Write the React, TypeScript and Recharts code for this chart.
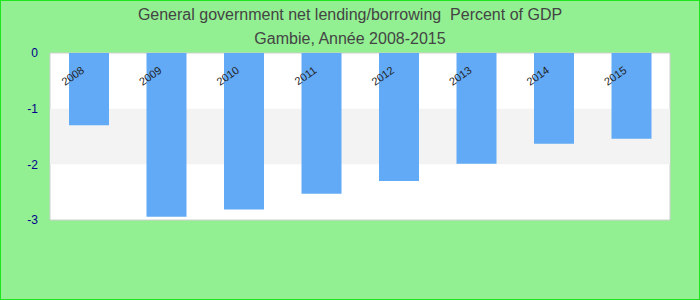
import React from "react";
import {
  BarChart,
  Bar,
  XAxis,
  YAxis,
  ReferenceArea,
  LabelList,
} from "recharts";

const years = ["2008", "2009", "2010", "2011", "2012", "2013", "2014", "2015"];
const netLending = [-1.3, -2.94, -2.81, -2.53, -2.3, -1.99, -1.63, -1.54];
const yTicks = [0, -1, -2, -3];

const data = years.map((year, i) => ({ year, value: netLending[i] }));

const font = "'Liberation Sans', Arial, sans-serif";

// year labels sit inside the plot near the zero line, tilted up to the right
const YearLabel = (props: any) => {
  const { x, y, width, height, value } = props;
  const top = Math.min(y, y + height);
  const tx = x + width / 2 - 4;
  const ty = top + 19;
  return (
    <text
      x={tx}
      y={ty}
      textAnchor="end"
      fontSize={11}
      fill="#222"
      fontFamily={font}
      transform={`rotate(-35, ${tx}, ${ty})`}
    >
      {value}
    </text>
  );
};

const App = () => {
  return (
    <div
      style={{
        position: "absolute",
        left: 0,
        top: 0,
        width: 700,
        height: 300,
        background: "#92ef92",
        boxSizing: "border-box",
        border: "1px solid #1ee61e",
        fontFamily: font,
      }}
    >
      <div
        style={{
          position: "absolute",
          left: 0,
          width: 698,
          top: 2,
          textAlign: "center",
          color: "#444",
          fontSize: 16,
          lineHeight: "24px",
        }}
      >
        <div>General government net lending/borrowing&nbsp; Percent of GDP</div>
        <div>Gambie, Année 2008-2015</div>
      </div>
      <div style={{ position: "absolute", left: -1, top: -1 }}>
        <BarChart
          width={700}
          height={300}
          data={data}
          margin={{ top: 53, right: 30, left: 0, bottom: 80 }}
        >
          <XAxis dataKey="year" hide />
          <YAxis
            type="number"
            domain={[-3, 0]}
            ticks={yTicks}
            width={50}
            axisLine={false}
            tickLine={false}
            tickSize={0}
            tickMargin={12}
            tick={{ fill: "#00008b", fontSize: 12, fontFamily: font }}
          />
          <ReferenceArea
            y1={0}
            y2={-3}
            fill="#ffffff"
            fillOpacity={1}
            stroke="#cfcfcf"
            strokeWidth={1}
          />
          <ReferenceArea y1={-1} y2={-2} fill="#f3f3f3" fillOpacity={1} />
          <Bar
            dataKey="value"
            fill="#62aaf5"
            barSize={40}
            isAnimationActive={false}
          >
            <LabelList dataKey="year" content={<YearLabel />} />
          </Bar>
        </BarChart>
      </div>
    </div>
  );
};

export default App;
